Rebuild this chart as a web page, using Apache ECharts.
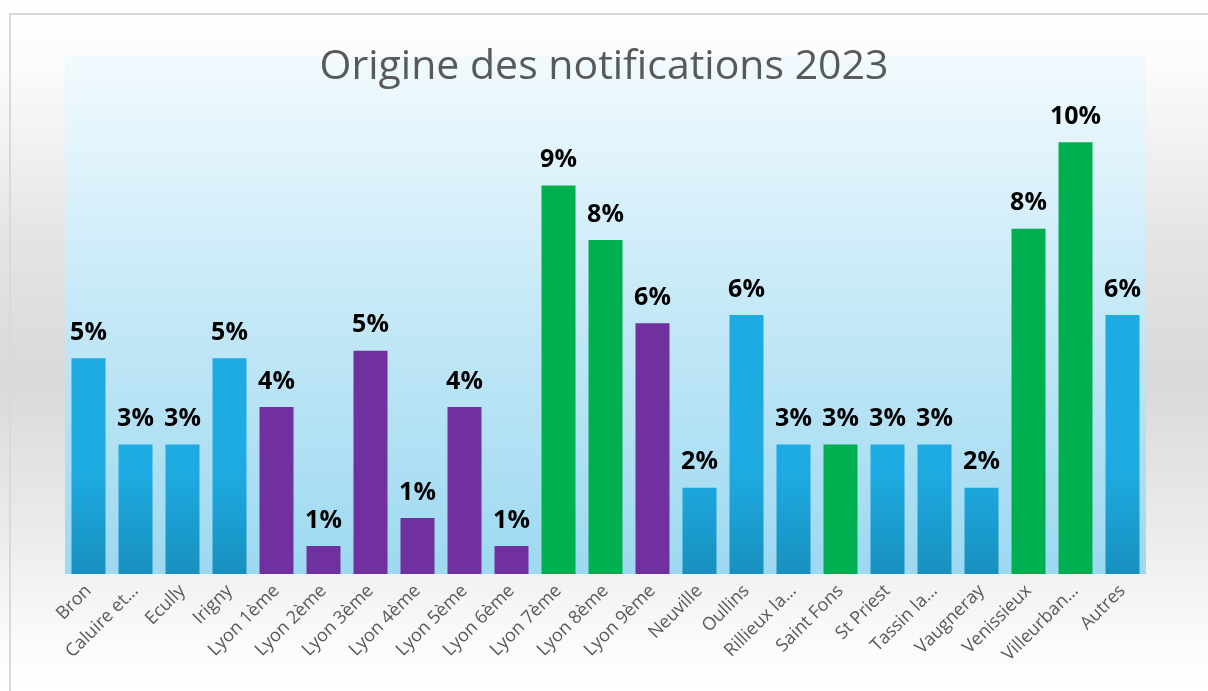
<!DOCTYPE html>
<html>
<head>
<meta charset="utf-8">
<script src="https://cdn.jsdelivr.net/npm/echarts@6/dist/echarts.min.js"></script>
<style>
  html, body { margin: 0; padding: 0; }
  body {
    width: 1208px; height: 691px; overflow: hidden; position: relative;
    background: linear-gradient(to bottom, #ffffff 0%, #fbfbfb 10%, #e4e4e4 35%, #d9d9d9 55%, #eeeeee 80%, #fafafa 92%, #ffffff 100%);
  }
  .frame {
    position: absolute; left: 9px; top: 13px; right: -2px; bottom: -2px;
    border: 2px solid #d9d9d9;
  }
  #chart { position: absolute; left: 0; top: 0; width: 1208px; height: 691px; }
</style>
</head>
<body>
<div class="frame"></div>
<div id="chart"></div>
<script>
// categories as shown on the axis (Excel truncates the long ones)
const communes = ['Bron', 'Caluire et…', 'Ecully', 'Irigny', 'Lyon 1ème', 'Lyon 2ème',
  'Lyon 3ème', 'Lyon 4ème', 'Lyon 5ème', 'Lyon 6ème', 'Lyon 7ème', 'Lyon 8ème',
  'Lyon 9ème', 'Neuville', 'Oullins', 'Rillieux la…', 'Saint Fons', 'St Priest',
  'Tassin la…', 'Vaugneray', 'Venissieux', 'Villeurban…', 'Autres']

// share of notifications, in %
const parts = [5.0, 3.0, 3.0, 5.0, 3.87, 0.65, 5.17, 1.3, 3.87, 0.65, 9.0, 7.74,
  5.81, 2.0, 6.0, 3.0, 3.0, 3.0, 3.0, 2.0, 8.0, 10.0, 6.0]

// colour group of each bar
const groupes = ['b', 'b', 'b', 'b', 'p', 'p', 'p', 'p', 'p', 'p', 'g', 'g',
  'p', 'b', 'b', 'b', 'g', 'b', 'b', 'b', 'g', 'g', 'b']

const couleurs = {
  b: {
    type: 'linear', x: 0, y: 470, x2: 0, y2: 574, global: true,
    colorStops: [{offset: 0, color: '#1eabe2'}, {offset: 1, color: '#1890bf'}]
  },
  p: '#7030a0',
  g: '#00b050'
}

const chart = echarts.init(document.getElementById('chart'))

chart.setOption({
  animation: false,
  title: {
    text: 'Origine des notifications 2023',
    left: 'center',
    top: 42,
    textStyle: {
      fontFamily: 'Open Sans',
      fontSize: 41,
      fontWeight: 'normal',
      color: '#595959'
    }
  },
  grid: {
    left: 65,
    right: 62,
    top: 56,
    bottom: 117,
    show: true,
    borderWidth: 0,
    backgroundColor: {
      type: 'linear', x: 0, y: 0, x2: 0, y2: 1,
      colorStops: [
        {offset: 0, color: '#f2fafe'},
        {offset: 0.5, color: '#c4e8f7'},
        {offset: 1, color: '#9dd9f1'}
      ]
    }
  },
  xAxis: {
    type: 'category',
    data: communes,
    axisLine: {show: false},
    axisTick: {show: false},
    axisLabel: {
      rotate: 45,
      interval: 0,
      margin: 14,
      fontFamily: 'Open Sans',
      fontSize: 18,
      color: '#595959'
    }
  },
  yAxis: {
    type: 'value',
    min: 0,
    max: 12,
    show: false,
    splitLine: {show: false}
  },
  series: [{
    type: 'bar',
    barWidth: 34,
    data: parts.map((v, i) => ({
      value: v,
      itemStyle: {color: couleurs[groupes[i]]}
    })),
    label: {
      show: true,
      position: 'top',
      distance: 13,
      formatter: p => Math.round(p.value) + '%',
      fontFamily: 'Open Sans',
      fontWeight: 'bold',
      fontSize: 25,
      color: '#000000'
    }
  }]
})
</script>
</body>
</html>
